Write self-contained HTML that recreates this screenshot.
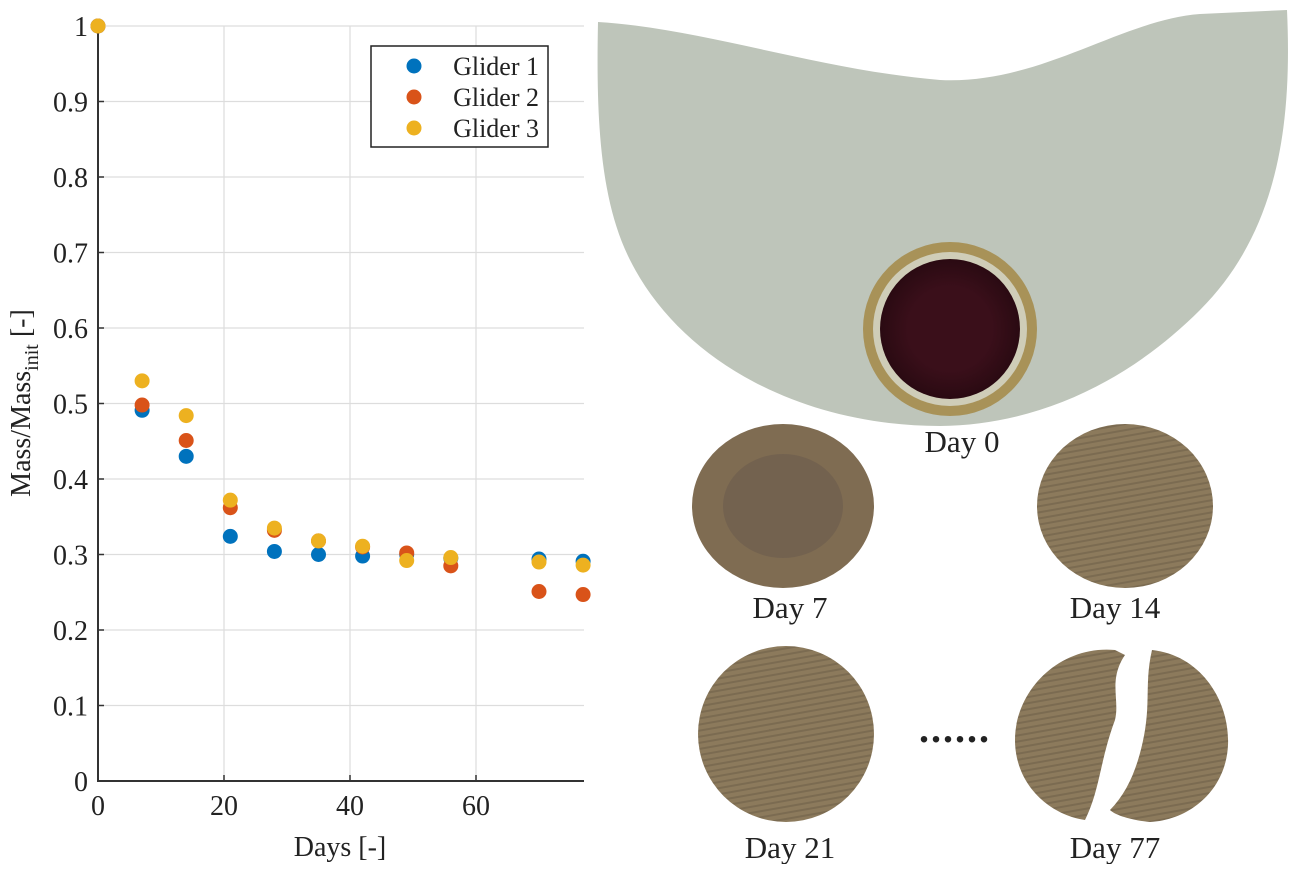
<!DOCTYPE html>
<html><head><meta charset="utf-8"><style>
body{margin:0;background:#fff;width:1294px;height:864px;overflow:hidden}
text{font-family:"Liberation Serif",serif;fill:#222}
</style></head><body>
<svg id="s" width="1294" height="864" xmlns="http://www.w3.org/2000/svg">
<defs>
<pattern id="stripe" width="6" height="6" patternUnits="userSpaceOnUse" patternTransform="rotate(80)"><rect width="6" height="6" fill="#8c7a5c"/><rect width="2" height="6" fill="#6f604a" opacity="0.6"/></pattern>
<radialGradient id="disc0" cx="0.5" cy="0.5" r="0.5"><stop offset="0.6" stop-color="#3a0f1a"/><stop offset="1" stop-color="#2a0a12"/></radialGradient>
</defs>
<g id="chart"></g>
<g>
<path d="M598,22 C700,28 820,70 940,80 C1040,85 1120,20 1200,14 L1287,10 C1292,120 1280,230 1200,310 C1130,380 1040,425 940,426 C800,426 680,360 630,260 C600,200 596,120 598,22 Z" fill="#bec5ba"/>
<circle cx="950" cy="329" r="87" fill="#a89258"/>
<circle cx="950" cy="329" r="77" fill="#cfcdb8"/>
<circle cx="950" cy="329" r="70" fill="url(#disc0)"/>
<ellipse cx="783" cy="506" rx="91" ry="82" fill="#7f6c52"/>
<ellipse cx="783" cy="506" rx="60" ry="52" fill="#6b5c4f" opacity="0.6"/>
<ellipse cx="1125" cy="506" rx="88" ry="82" fill="url(#stripe)"/>
<ellipse cx="786" cy="734" rx="88" ry="88" fill="url(#stripe)"/>
<path d="M1115,650 C1060,645 1015,690 1015,740 C1015,785 1050,815 1085,820 C1100,790 1100,760 1115,720 C1120,700 1108,680 1125,655 Z" fill="url(#stripe)"/>
<path d="M1152,650 C1200,655 1230,700 1228,745 C1226,790 1190,820 1150,822 C1130,820 1115,815 1110,810 C1130,790 1140,760 1145,730 C1150,700 1145,680 1152,650 Z" fill="url(#stripe)"/>
<text x="962" y="452" font-size="31" text-anchor="middle">Day 0</text>
<text x="790" y="618" font-size="31" text-anchor="middle">Day 7</text>
<text x="1115" y="618" font-size="31" text-anchor="middle">Day 14</text>
<text x="790" y="858" font-size="31" text-anchor="middle">Day 21</text>
<text x="1115" y="858" font-size="31" text-anchor="middle">Day 77</text>
<text x="955" y="742" font-size="40" font-weight="bold" text-anchor="middle" letter-spacing="2">......</text>
</g>
</svg>
<script>
const days=[0,7,14,21,28,35,42,49,56,70,77];
const glider1=[1,0.491,0.430,0.324,0.304,0.300,0.298,0.300,0.295,0.294,0.291];
const glider2=[1,0.498,0.451,0.362,0.332,0.318,0.310,0.302,0.285,0.251,0.247];
const glider3=[1,0.530,0.484,0.372,0.335,0.318,0.311,0.292,0.296,0.290,0.286];
const seriesNames=["Glider 1","Glider 2","Glider 3"];
const xTicks=[0,20,40,60];
const yTicks=[0,0.1,0.2,0.3,0.4,0.5,0.6,0.7,0.8,0.9,1];
const yTickLabels=["0","0.1","0.2","0.3","0.4","0.5","0.6","0.7","0.8","0.9","1"];
const colors=["#0072bd","#d95319","#edb120"];
const NS="http://www.w3.org/2000/svg";
const g=document.getElementById('chart');
const X=d=>98+d*6.3, Y=v=>781-v*755;
const L=98,R=584,T=26,B=781;
function mk(t,a){const e=document.createElementNS(NS,t);for(const k in a)e.setAttribute(k,a[k]);g.appendChild(e);return e;}
yTicks.forEach((v,i)=>{
 const gl=mk('line',{x1:L,x2:R,y1:Y(v),y2:Y(v),stroke:'#ddd','stroke-width':1.2});
 
 
 mk('line',{x1:L,x2:L+6,y1:Y(v),y2:Y(v),stroke:'#333','stroke-width':1.5});
 const t=mk('text',{x:L-10,y:Y(v)+10,'font-size':28,'text-anchor':'end'});t.textContent=yTickLabels[i];
 
 
});
xTicks.forEach(v=>{
 const gl=mk('line',{x1:X(v),x2:X(v),y1:T,y2:B,stroke:'#ddd','stroke-width':1.2});
 
 
 mk('line',{x1:X(v),x2:X(v),y1:B,y2:B-6,stroke:'#333','stroke-width':1.5});
 const t=mk('text',{x:X(v),y:B+34,'font-size':28,'text-anchor':'middle'});t.textContent=v;
 
 
});
const ax=mk('path',{d:`M${L},${T} L${L},${B} L${R},${B}`,fill:'none',stroke:'#333','stroke-width':2});


[glider1,glider2,glider3].forEach((s,si)=>{
 s.forEach((v,i)=>{
  const c=mk('circle',{cx:X(days[i]),cy:Y(v),r:7.5,fill:colors[si]});
  
  
 });
});
const xt=mk('text',{x:340,y:856,'font-size':28,'text-anchor':'middle'});xt.textContent='Days [-]';


const yt=mk('text',{transform:'translate(30,403) rotate(-90)','font-size':28,'text-anchor':'middle'});
yt.innerHTML='Mass/Mass<tspan font-size="20" dy="8">init</tspan><tspan dy="-8"> [-]</tspan>';


const lb=mk('rect',{x:371,y:46,width:177,height:101,fill:'#fff',stroke:'#222','stroke-width':1.5});


seriesNames.forEach((n,i)=>{
 const y=66+i*31;
 const c=mk('circle',{cx:414,cy:y,r:7.5,fill:colors[i]});
 
 
 const t=mk('text',{x:539,y:y+9,'font-size':26,'text-anchor':'end'});t.textContent=n;
 
 
});
</script>
</body></html>
